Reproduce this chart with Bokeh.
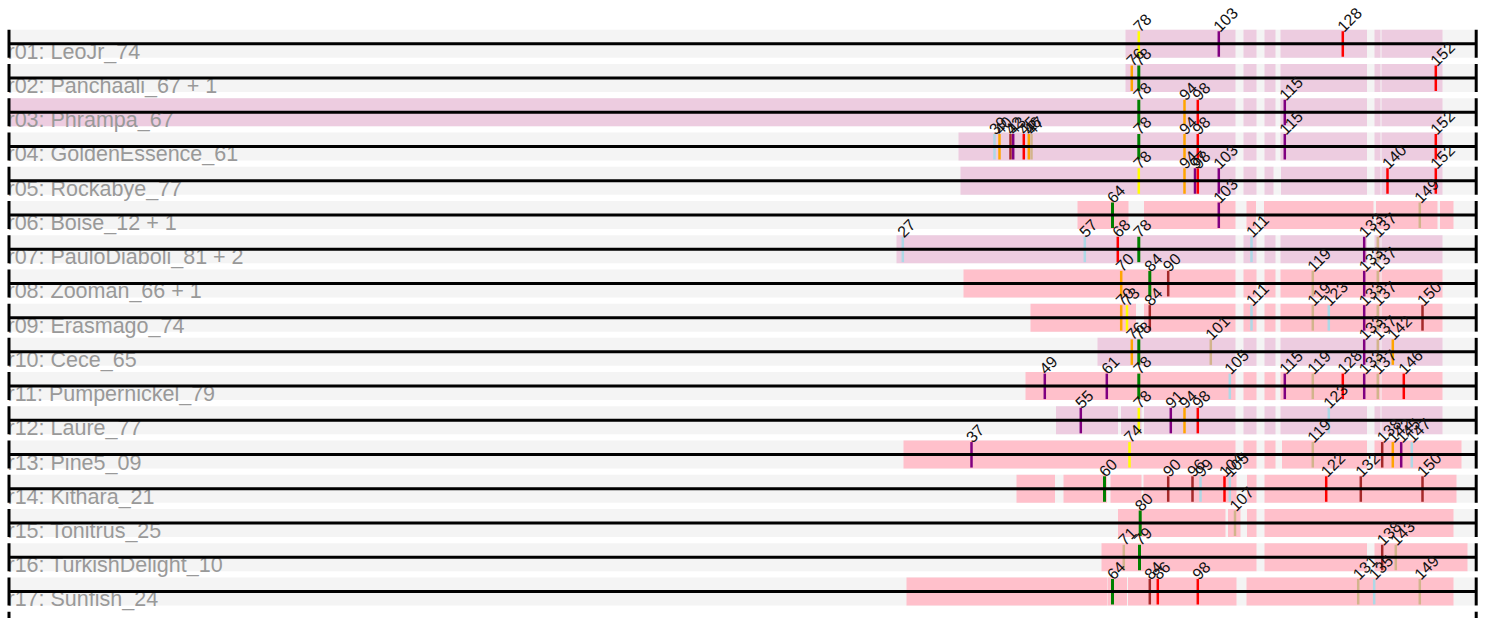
import math
from bokeh.plotting import figure
from bokeh.models import Range1d, ColumnDataSource
from bokeh.core.properties import value
from bokeh.embed import file_html
from bokeh.resources import INLINE

# ---------------- data ----------------
row_names = [
    "r01: LeoJr_74", "r02: Panchaali_67 + 1", "r03: Phrampa_67",
    "r04: GoldenEssence_61", "r05: Rockabye_77", "r06: Boise_12 + 1",
    "r07: PauloDiaboli_81 + 2", "r08: Zooman_66 + 1", "r09: Erasmago_74",
    "r10: Cece_65", "r11: Pumpernickel_79", "r12: Laure_77",
    "r13: Pine5_09", "r14: Kithara_21", "r15: Tonitrus_25",
    "r16: TurkishDelight_10", "r17: Sunfish_24",
]
row_shade = ["m", "m", "m", "m", "m", "p", "m", "p", "p", "m",
             "p", "m", "p", "p", "p", "p", "p"]

# alignment column of each variant site
variant_ids = [27, 37, 39, 40, 42, 43, 45, 46, 47, 49,
               55, 57, 60, 61, 64, 68, 70, 71, 73, 74,
               76, 78, 79, 80, 84, 86, 90, 91, 94, 96,
               97, 98, 99, 101, 103, 104, 105, 107, 111, 115,
               119, 122, 123, 128, 131, 132, 133, 135, 137, 138,
               140, 142, 143, 145, 146, 147, 149, 150, 152]
variant_cols = [902.3, 971, 994, 999, 1010, 1012.7, 1023.3, 1028.3, 1031, 1044.3,
                1080.3, 1084.3, 1104, 1106.3, 1112, 1117.3, 1120.7, 1123.3, 1126.5, 1129,
                1131.3, 1138.3, 1139, 1139.7, 1149.3, 1157.3, 1167.7, 1170.3, 1184, 1192,
                1194.5, 1197.3, 1200, 1210.3, 1218.3, 1224, 1229.3, 1234.5, 1251, 1284.3,
                1312.3, 1325.7, 1328.3, 1342.3, 1357.7, 1360.3, 1363.7, 1373.7, 1377.3, 1381.7,
                1387, 1392.3, 1395.3, 1400.7, 1403.3, 1411.3, 1419.3, 1422, 1435.3]

track_start = 8
track_end = 1476

# covered segments per row (alignment columns)
common_tail = [(1243, 1256), (1264, 1275), (1280, 1366.5), (1374, 1380), (1381, 1442)]
row_segments = [
    [(1125, 1235)] + common_tail,
    [(1125, 1235)] + common_tail,
    [(8, 1235)] + common_tail,
    [(958, 1235)] + common_tail,
    [(960, 1235), (1243, 1256), (1264, 1273), (1280.5, 1366.5), (1374, 1380), (1381, 1442)],
    [(1077, 1128), (1143.5, 1235), (1246, 1255.5), (1263.5, 1373), (1375.5, 1437), (1439.5, 1453)],
    [(896, 1235)] + common_tail,
    [(963, 1235), (1243, 1256), (1264, 1275), (1280, 1380), (1381, 1442)],
    [(1030, 1135.5), (1143.5, 1235), (1243, 1256), (1264, 1275), (1280, 1380), (1381, 1442)],
    [(1097, 1235), (1243, 1256), (1264, 1275), (1280, 1380), (1381, 1442)],
    [(1025, 1235), (1243, 1256), (1264, 1275), (1280, 1380), (1381, 1442)],
    [(1055.5, 1117.5), (1120.5, 1141), (1143.5, 1235)] + common_tail,
    [(903, 1235), (1243, 1256), (1264, 1275), (1281.5, 1366.5), (1374, 1461)],
    [(1016, 1054.5), (1063, 1106.5), (1110, 1141), (1143, 1236), (1246.5, 1256), (1264, 1456)],
    [(1117.5, 1225), (1227.5, 1240), (1246.5, 1256), (1264, 1453)],
    [(1101, 1256), (1264, 1366.5), (1374, 1467)],
    [(906, 1107), (1107.5, 1126.5), (1127.5, 1236), (1246, 1453)],
]

row_variants = [
    [78, 103, 128],
    [76, 78, 152],
    [78, 94, 98, 115],
    [39, 40, 42, 43, 45, 46, 47, 78, 94, 98, 115, 152],
    [78, 94, 97, 98, 103, 140, 152],
    [64, 103, 149],
    [27, 57, 68, 78, 111, 133, 137],
    [70, 84, 90, 119, 133, 137],
    [70, 73, 84, 111, 119, 123, 133, 137, 150],
    [76, 78, 101, 133, 137, 142],
    [49, 61, 78, 105, 115, 119, 128, 133, 137, 146],
    [55, 78, 91, 94, 98, 123],
    [37, 74, 119, 138, 142, 145, 147],
    [60, 90, 96, 99, 104, 105, 122, 132, 150],
    [80, 107],
    [71, 79, 138, 143],
    [64, 84, 86, 98, 131, 135, 149],
]
row_alleles = [
    "YPR",
    "OGR",
    "GORP",
    "LOBPROTGORPR",
    "YOPRPRR",
    "GPT",
    "LLRGLPT",
    "OGBTPT",
    "OYBLTLPTB",
    "OGTPTO",
    "PPGLPTRPTR",
    "PYPORL",
    "PYTBOPL",
    "GBBLRLRBB",
    "GT",
    "TGBT",
    "GBRRTLT",
]

allele_colors = {"Y": "#ffff00", "G": "#008000", "O": "#ffa500", "R": "#ff0000",
                 "P": "#800080", "B": "#a52a2a", "T": "#d2b48c", "L": "#add8e6"}
shade_colors = {"m": "#edcce0", "p": "#ffc0cb"}

# ---------------- figure ----------------
ROW_PX = 34.23
FIG_W, FIG_H = 1488, 618
first_line_px = 43.3
y_top = -first_line_px / ROW_PX
y_bot = (FIG_H - first_line_px) / ROW_PX
half_band = 14 / ROW_PX

p = figure(width=FIG_W, height=FIG_H, output_backend="svg", toolbar_location=None,
           x_range=Range1d(0, FIG_W), y_range=Range1d(y_bot, y_top),
           min_border=0, outline_line_color=None, background_fill_color="white")
p.axis.visible = False
p.grid.visible = False

n = len(row_names)
col_of = dict(zip(variant_ids, variant_cols))

# grey track bands
p.quad(left=[track_start] * n, right=[track_end] * n,
       top=[i - half_band for i in range(n)], bottom=[i + half_band for i in range(n)],
       fill_color="#f4f4f4", line_color=None)

# covered segments
sl, sr, st, sb, sc = [], [], [], [], []
for i, segs in enumerate(row_segments):
    for a, b in segs:
        sl.append(a); sr.append(b)
        st.append(i - half_band); sb.append(i + half_band)
        sc.append(shade_colors[row_shade[i]])
p.quad(left=sl, right=sr, top=st, bottom=sb, fill_color=sc, line_color=None)

# variant markers
mx, my0, my1, mc, mw, ml, mly = [], [], [], [], [], [], []
for i, (vs, al) in enumerate(zip(row_variants, row_alleles)):
    for v, a in zip(vs, al):
        x = col_of[v]
        mx.append(x); my0.append(i - 12.5 / ROW_PX); my1.append(i + 13 / ROW_PX)
        mc.append(allele_colors[a]); mw.append(3 if a == "G" else 2.5)
        ml.append(str(v)); mly.append(i - half_band)
msrc = ColumnDataSource(dict(x=mx, y0=my0, y1=my1, c=mc, w=mw, label=ml, ly=mly))
p.segment(x0="x", x1="x", y0="y0", y1="y1", line_color="c", line_width="w", source=msrc)

# row labels
p.text(x=[7] * n, y=[i + 8 / ROW_PX for i in range(n)], text=row_names,
       text_font=value("Liberation Sans"), text_font_size="21.5px",
       text_color="#999999", text_baseline="alphabetic", text_align="left")

# track lines
p.segment(x0=[track_start] * n, x1=[track_end] * n, y0=list(range(n)), y1=list(range(n)),
          line_color="black", line_width=3)

# marker labels
p.text(x="x", y="ly", text="label", source=msrc, angle=math.pi / 4,
       text_font=value("Liberation Sans"), text_font_size="16px",
       text_color="#111111", text_baseline="middle", text_align="left",
       x_offset=-3, y_offset=-1)

# end bars
nb = n + 1
p.segment(x0=[8.5] * nb, x1=[8.5] * nb, y0=[i - half_band for i in range(nb)],
          y1=[i + half_band for i in range(nb)], line_color="black", line_width=3)
p.segment(x0=[1475.7] * nb, x1=[1475.7] * nb, y0=[i - half_band for i in range(nb)],
          y1=[i + half_band for i in range(nb)], line_color="black", line_width=3)

open("out.html", "w").write(file_html(p, INLINE))
